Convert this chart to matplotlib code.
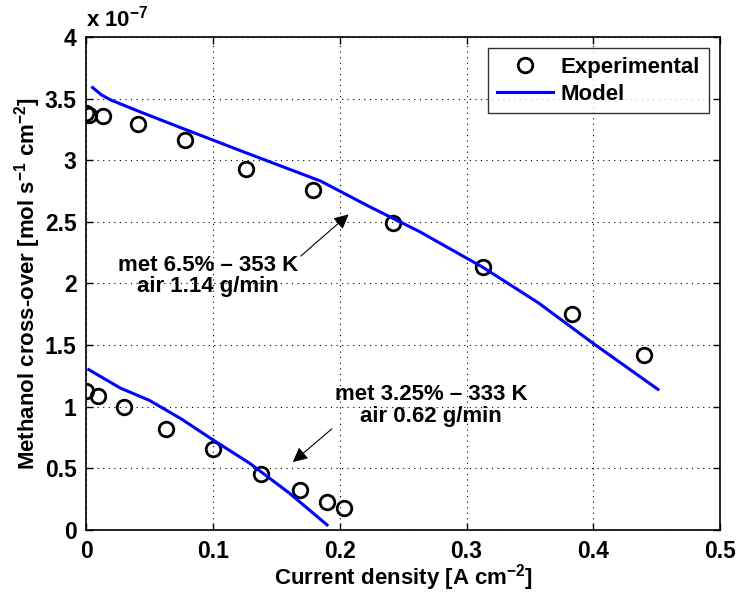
import matplotlib
matplotlib.use("Agg")
import matplotlib.pyplot as plt

plt.rcParams['font.family'] = ['Liberation Sans', 'DejaVu Sans']
plt.rcParams['font.weight'] = 'bold'
plt.rcParams['mathtext.fontset'] = 'custom'
plt.rcParams['mathtext.rm'] = 'Liberation Sans:bold'
plt.rcParams['mathtext.it'] = 'Liberation Sans:bold'
plt.rcParams['mathtext.bf'] = 'Liberation Sans:bold'
plt.rcParams['mathtext.default'] = 'rm'

# y values in units of 1e-7 mol s^-1 cm^-2
exp_hi_x = [0.0, 0.002, 0.013, 0.041, 0.078, 0.126, 0.179, 0.242, 0.313, 0.383, 0.440]
exp_hi_y = [3.38, 3.37, 3.36, 3.29, 3.16, 2.93, 2.76, 2.49, 2.13, 1.75, 1.42]
mod_hi_x = [0.005, 0.012, 0.019, 0.043, 0.078, 0.126, 0.185, 0.224, 0.263, 0.313, 0.357, 0.399, 0.451]
mod_hi_y = [3.59, 3.53, 3.49, 3.39, 3.25, 3.06, 2.83, 2.62, 2.42, 2.13, 1.84, 1.52, 1.14]

exp_lo_x = [0.0, 0.009, 0.030, 0.063, 0.100, 0.138, 0.169, 0.190, 0.203]
exp_lo_y = [1.13, 1.09, 1.00, 0.82, 0.66, 0.45, 0.32, 0.23, 0.18]
mod_lo_x = [0.002, 0.027, 0.050, 0.075, 0.100, 0.129, 0.160, 0.190]
mod_lo_y = [1.30, 1.15, 1.05, 0.90, 0.73, 0.54, 0.30, 0.04]

xticks = [0, 0.1, 0.2, 0.3, 0.4, 0.5]
xticklabels = ['0', '0.1', '0.2', '0.3', '0.4', '0.5']
yticks = [0, 0.5, 1, 1.5, 2, 2.5, 3, 3.5, 4]
yticklabels = ['0', '0.5', '1', '1.5', '2', '2.5', '3', '3.5', '4']

fig = plt.figure(figsize=(7.37, 5.96), dpi=100)
ax = fig.add_axes([0.117, 0.111, 0.860, 0.827])

ax.plot(exp_hi_x, exp_hi_y, 'o', mfc='none', mec='black', ms=10.5, mew=2, label='Experimental')
ax.plot(mod_hi_x, mod_hi_y, '-', color='#0000ff', lw=2.2, label='Model')
ax.plot(exp_lo_x, exp_lo_y, 'o', mfc='none', mec='black', ms=10.5, mew=2)
ax.plot(mod_lo_x, mod_lo_y, '-', color='#0000ff', lw=2.2)

ax.set_xlim(0, 0.5)
ax.set_ylim(0, 4)
ax.set_xticks(xticks)
ax.set_xticklabels(xticklabels, fontsize=16.5, fontweight='bold')
ax.set_yticks(yticks)
ax.set_yticklabels(yticklabels, fontsize=16.5, fontweight='bold')
ax.tick_params(direction='in', top=True, right=True, width=1, length=5, pad=7)
ax.grid(True, linestyle=(0, (1, 4)), color='black', lw=0.8)
for s in ax.spines.values():
    s.set_linewidth(1.2)

ax.set_xlabel('Current density [A cm$^{-2}$]', fontsize=16, fontweight='bold', labelpad=0)
ax.set_ylabel('Methanol cross-over [mol s$^{-1}$ cm$^{-2}$]', fontsize=16, fontweight='bold', labelpad=1)
ax.text(0.0, 1.012, 'x 10$^{-7}$', transform=ax.transAxes, fontsize=16, fontweight='bold',
        ha='left', va='bottom')

ax.annotate('met 6.5% – 353 K\nair 1.14 g/min', xy=(0.207, 2.56), xytext=(0.096, 2.06),
            fontsize=16, fontweight='bold', ha='center', va='center', linespacing=1.05,
            arrowprops=dict(arrowstyle='-|>', color='black', lw=0.8, mutation_scale=22,
                            shrinkA=0, shrinkB=0, relpos=(0.97, 0.8)))
ax.annotate('met 3.25% – 333 K\nair 0.62 g/min', xy=(0.163, 0.55), xytext=(0.272, 1.01),
            fontsize=16, fontweight='bold', ha='center', va='center', linespacing=1.05,
            arrowprops=dict(arrowstyle='-|>', color='black', lw=0.8, mutation_scale=22,
                            shrinkA=0, shrinkB=0, relpos=(0.05, 0.2)))

leg = ax.legend(loc='upper right', prop={'size': 16, 'weight': 'bold'}, frameon=True,
                fancybox=False, edgecolor='black', handlelength=2.5, handletextpad=0.35,
                borderaxespad=0.5, borderpad=0.4, labelspacing=0.25)
leg.get_frame().set_linewidth(1.0)

fig.savefig('out.png', dpi=100)
